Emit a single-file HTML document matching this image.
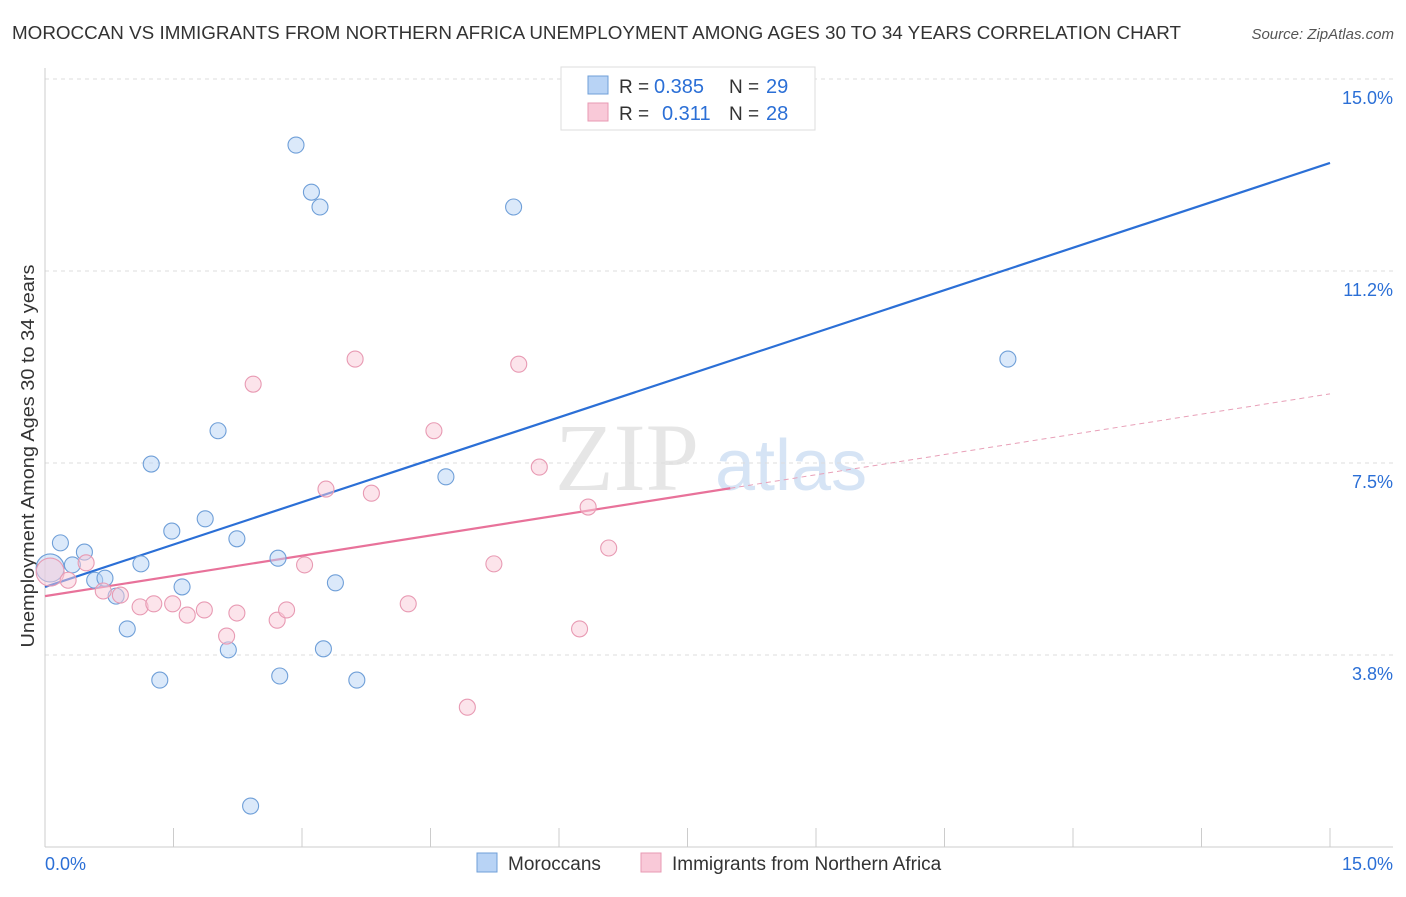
<!DOCTYPE html>
<html><head><meta charset="utf-8"><style>
body{margin:0;background:#fff;font-family:"Liberation Sans",sans-serif;}
</style></head><body>
<svg id="chart" width="1406" height="892" xmlns="http://www.w3.org/2000/svg">
<text x="12" y="39" font-size="18.5" fill="#333" textLength="1169" lengthAdjust="spacingAndGlyphs">MOROCCAN VS IMMIGRANTS FROM NORTHERN AFRICA UNEMPLOYMENT AMONG AGES 30 TO 34 YEARS CORRELATION CHART</text>
<text x="1394" y="39" font-size="15" fill="#555" text-anchor="end" font-style="italic">Source: ZipAtlas.com</text>
<text x="34" y="456" font-size="18" fill="#333" text-anchor="middle" textLength="383" lengthAdjust="spacingAndGlyphs" transform="rotate(-90 34 456)">Unemployment Among Ages 30 to 34 years</text>
<text x="555" y="490" font-size="96" fill="#e6e6e6" font-family="Liberation Serif,serif">ZIP</text>
<text x="715" y="490" font-size="72" fill="#d6e4f5">atlas</text>
<g id="grid"></g><g id="axes"></g><g id="lines"></g><g id="pts"></g>
<g>
<rect x="561" y="67" width="254" height="63" fill="#fff" stroke="#ddd"/>
<rect x="588" y="76" width="20" height="18" fill="#b8d3f5" stroke="#6f9fd8"/>
<rect x="588" y="103" width="20" height="18" fill="#f9c9d8" stroke="#e89ab3"/>
<text x="619" y="93" font-size="19" fill="#333">R =</text>
<text x="654" y="93" font-size="20" fill="#2b6fd6">0.385</text>
<text x="729" y="93" font-size="19" fill="#333">N =</text>
<text x="766" y="93" font-size="20" fill="#2b6fd6">29</text>
<text x="619" y="120" font-size="19" fill="#333">R =</text>
<text x="662" y="120" font-size="20" fill="#2b6fd6">0.311</text>
<text x="729" y="120" font-size="19" fill="#333">N =</text>
<text x="766" y="120" font-size="20" fill="#2b6fd6">28</text>
</g>
<g>
<rect x="477" y="853" width="20" height="19" fill="#b8d3f5" stroke="#6f9fd8"/>
<text x="508" y="870" font-size="19" fill="#333">Moroccans</text>
<rect x="641" y="853" width="20" height="19" fill="#f9c9d8" stroke="#e89ab3"/>
<text x="672" y="870" font-size="19" fill="#333">Immigrants from Northern Africa</text>
</g>
</svg>
<script>
const yTicks=[15.0,11.25,7.5,3.75];
const yTickLabels=["15.0%","11.2%","7.5%","3.8%"];
const xTickLabels=["0.0%","15.0%"];
const blueX=[0.06,0.18,0.32,0.46,0.58,0.70,0.83,0.96,1.12,1.24,1.34,1.48,1.60,1.87,2.02,2.14,2.24,2.40,2.72,2.74,2.93,3.11,3.21,3.25,3.39,3.64,4.68,5.47,11.24];
const blueY=[5.45,5.94,5.51,5.76,5.21,5.25,4.90,4.26,5.53,7.48,3.26,6.17,5.08,6.41,8.13,3.85,6.02,0.80,5.64,3.34,13.71,12.79,12.50,3.87,5.16,3.26,7.23,12.50,9.53];
const pinkX=[0.06,0.27,0.48,0.68,0.88,1.11,1.27,1.49,1.66,1.86,2.12,2.24,2.43,2.71,2.82,3.03,3.28,3.62,3.81,4.24,4.54,4.93,5.24,5.53,5.77,6.24,6.34,6.58];
const pinkY=[5.37,5.21,5.55,5.00,4.92,4.69,4.75,4.75,4.53,4.63,4.12,4.57,9.04,4.43,4.63,5.51,6.99,9.53,6.91,4.75,8.13,2.73,5.53,9.43,7.42,4.26,6.64,5.84];
const blueFit=[5.08,13.36];
const pinkFit=[4.90,8.85];
const pinkSolidEnd=8.0;
const NS="http://www.w3.org/2000/svg";
const X=v=>45+v*(1285/15), Y=v=>847-v*51.2;
function mk(tag,at,parent){const e=document.createElementNS(NS,tag);for(const k in at)e.setAttribute(k,at[k]);document.getElementById(parent).appendChild(e);return e;}
yTicks.forEach((t,i)=>{
 const l=mk('line',{x1:45,x2:1393,y1:Y(t),y2:Y(t),stroke:'#ddd','stroke-dasharray':'4,4'},'grid');
 
 
 const tx=mk('text',{x:1393,y:Y(t)+25,'font-size':18,fill:'#2b6fd6','text-anchor':'end'},'grid');tx.textContent=yTickLabels[i];
 
 
});
mk('line',{x1:45,x2:45,y1:68,y2:847,stroke:'#ccc'},'axes');
mk('line',{x1:45,x2:1393,y1:847,y2:847,stroke:'#ccc'},'axes');
for(let i=0;i<=10;i++){const t=mk('line',{x1:X(i*1.5),x2:X(i*1.5),y1:828,y2:847,stroke:'#ccc'},'axes');
 
 }
const xl0=mk('text',{x:45,y:870,'font-size':18,fill:'#2b6fd6'},'axes');xl0.textContent=xTickLabels[0];


const xl1=mk('text',{x:1393,y:870,'font-size':18,fill:'#2b6fd6','text-anchor':'end'},'axes');xl1.textContent=xTickLabels[1];


function pts(xs,ys,fill,stroke,name){xs.forEach((x,i)=>{const c=mk('circle',{cx:X(x),cy:Y(ys[i]),r:i==0?14:8,fill:fill,'fill-opacity':0.5,stroke:stroke,'stroke-width':1.1},'pts');
 
 });}
pts(blueX,blueY,'#b8d3f5','#6f9fd8','moroccan-point');
pts(pinkX,pinkY,'#f9c9d8','#e89ab3','immigrant-point');
const bl=mk('line',{x1:X(0),y1:Y(blueFit[0]),x2:X(15),y2:Y(blueFit[1]),stroke:'#2b6fd6','stroke-width':2.2},'lines');


const pAt=v=>pinkFit[0]+(pinkFit[1]-pinkFit[0])*v/15;
const pl=mk('line',{x1:X(0),y1:Y(pinkFit[0]),x2:X(pinkSolidEnd),y2:Y(pAt(pinkSolidEnd)),stroke:'#e8729a','stroke-width':2.2},'lines');


const pd=mk('line',{x1:X(pinkSolidEnd),y1:Y(pAt(pinkSolidEnd)),x2:X(15),y2:Y(pinkFit[1]),stroke:'#e8a0b8','stroke-width':1,'stroke-dasharray':'5,4'},'lines');


</script>
</body></html>
